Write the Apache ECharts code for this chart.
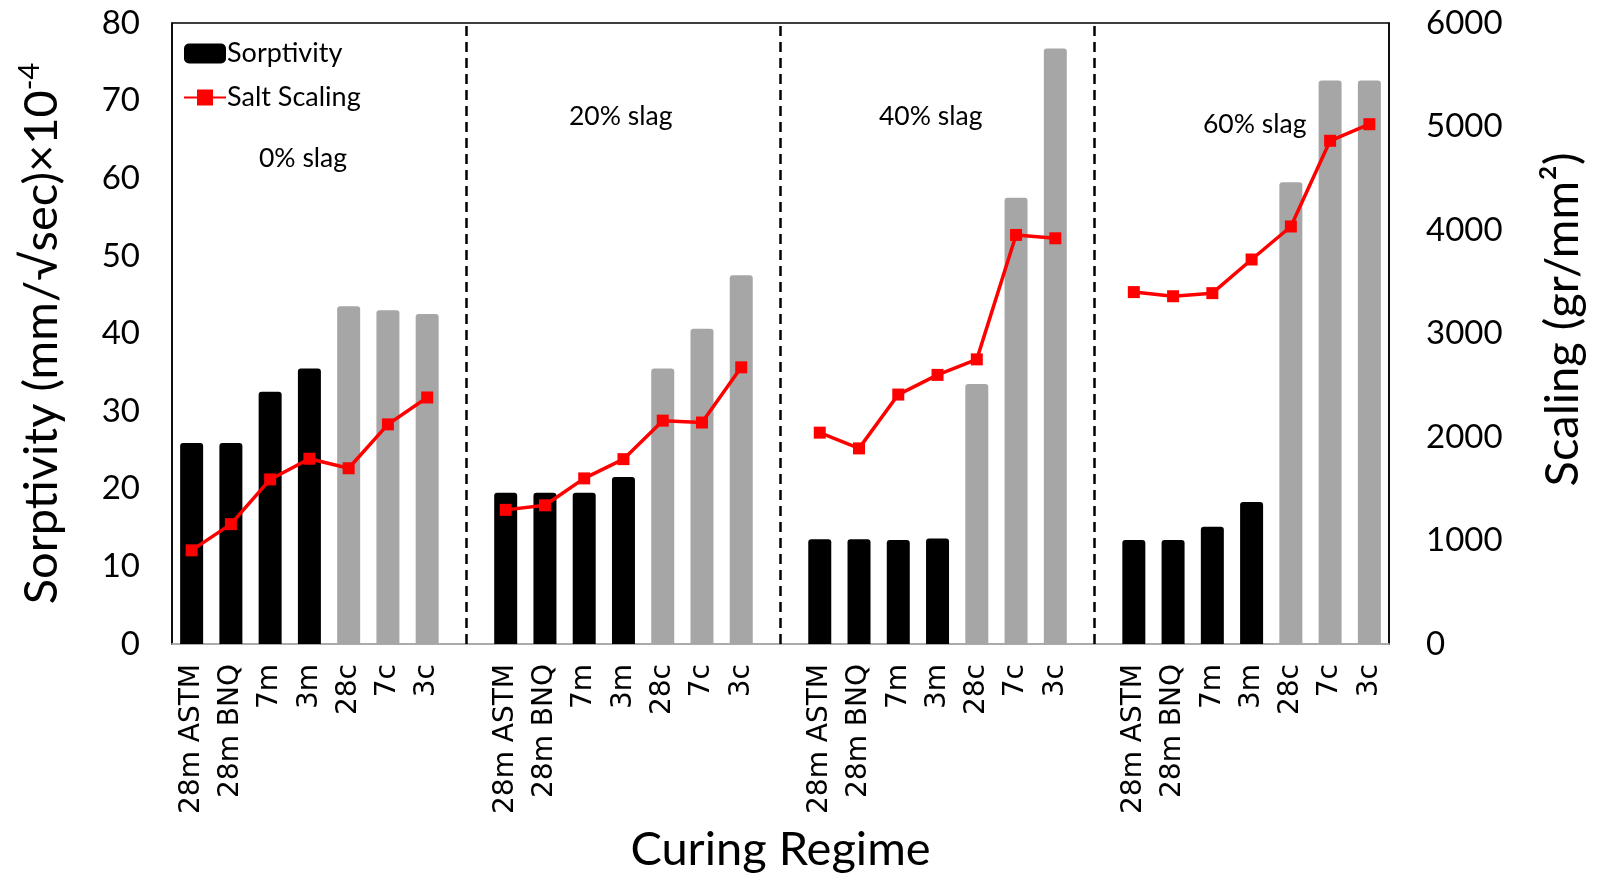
<!DOCTYPE html>
<html>
<head>
<meta charset="utf-8">
<script src="https://cdn.jsdelivr.net/npm/echarts@6/dist/echarts.min.js"></script>
<style>
html,body{margin:0;padding:0;background:#fff;}
#chart{width:1601px;height:878px;}
</style>
</head>
<body>
<div id="chart"></div>
<script>
// ---- data ----
const regimes = ['28m ASTM', '28m BNQ', '7m', '3m', '28c', '7c', '3c'];
const groupNames = ['0% slag', '20% slag', '40% slag', '60% slag'];
const sorptivity0  = [25.9, 25.9, 32.5, 35.5, 43.5, 43.0, 42.5];
const sorptivity20 = [19.5, 19.5, 19.5, 21.5, 35.5, 40.6, 47.5];
const sorptivity40 = [13.5, 13.5, 13.4, 13.6, 33.5, 57.5, 76.7];
const sorptivity60 = [13.4, 13.4, 15.1, 18.3, 59.5, 72.6, 72.6];
const scaling0  = [905, 1158, 1590, 1790, 1698, 2122, 2382];
const scaling20 = [1296, 1340, 1600, 1786, 2158, 2140, 2673];
const scaling40 = [2042, 1890, 2410, 2600, 2750, 3952, 3920];
const scaling60 = [3400, 3360, 3390, 3715, 4034, 4862, 5022];
const leftTicks = {min: 0, max: 80, interval: 10};
const rightTicks = {min: 0, max: 6000, interval: 1000};

// ---- build flat category arrays with a blank slot between groups ----
const sorpGroups = [sorptivity0, sorptivity20, sorptivity40, sorptivity60];
const scaleGroups = [scaling0, scaling20, scaling40, scaling60];
const categories = [], barData = [], lineData = [], separators = [];
sorpGroups.forEach((g, gi) => {
  if (gi > 0) {
    separators.push(categories.length);
    categories.push('sep' + gi);
    barData.push(null);
    lineData.push(null);
  }
  regimes.forEach((r, i) => {
    categories.push(r + '#' + gi);
    const gray = /c$/.test(r);
    barData.push({value: g[i], itemStyle: {color: gray ? '#a6a6a6' : '#000000'}});
    lineData.push(scaleGroups[gi][i]);
  });
});

const chart = echarts.init(document.getElementById('chart'), null, {renderer: 'canvas'});
const FONT = 'Lato';
const gridL = 172, gridR = 212, gridT = 23, gridB = 233;

const option = {
  animation: false,
  backgroundColor: '#fff',
  grid: {left: gridL, right: gridR, top: gridT, bottom: gridB, show: true, borderColor: '#000', borderWidth: 1.5, containLabel: false},
  legend: {
    orient: 'vertical', left: 178, top: 35,
    itemWidth: 42, itemHeight: 20, itemGap: 17,
    data: [
      {name: 'Sorptivity', icon: 'roundRect', itemStyle: {color: '#000'}},
      {name: 'Salt Scaling'}
    ],
    textStyle: {fontFamily: FONT, fontSize: 27, color: '#000', padding: [0, 0, 0, -4]}
  },
  xAxis: {
    type: 'category', data: categories,
    axisLine: {show: true, lineStyle: {color: '#d0d0d0', width: 1.5}},
    axisTick: {show: false},
    axisLabel: {
      interval: 0, rotate: 90, margin: 20,
      fontFamily: 'DejaVu Sans', fontSize: 28, color: '#000',
      formatter: v => v.startsWith('sep') ? '' : v.split('#')[0]
    },
    name: 'Curing Regime', nameLocation: 'middle', nameGap: 182,
    nameTextStyle: {fontFamily: FONT, fontSize: 47, color: '#000'}
  },
  yAxis: [
    {
      type: 'value', min: leftTicks.min, max: leftTicks.max, interval: leftTicks.interval,
      axisLine: {show: true, lineStyle: {color: '#000', width: 1.5}},
      axisTick: {show: false}, splitLine: {show: false},
      axisLabel: {margin: 32, fontFamily: FONT, fontSize: 33, color: '#000'},
      name: '{n|Sorptivity (mm/√sec)×10}{s|-4}', nameLocation: 'middle', nameGap: 104, nameRotate: 90,
      nameTextStyle: {
        rich: {
          n: {fontFamily: FONT, fontSize: 47, color: '#000'},
          s: {fontFamily: FONT, fontSize: 29, color: '#000', verticalAlign: 'top', padding: [0, 0, 24, 0]}
        }
      }
    },
    {
      type: 'value', position: 'right', min: rightTicks.min, max: rightTicks.max, interval: rightTicks.interval,
      axisLine: {show: true, lineStyle: {color: '#000', width: 1.5}},
      axisTick: {show: false}, splitLine: {show: false},
      axisLabel: {margin: 37, fontFamily: FONT, fontSize: 33, color: '#000', formatter: v => String(v)},
      name: 'Scaling (gr/mm²)', nameLocation: 'middle', nameGap: 150, nameRotate: 90,
      nameTextStyle: {fontFamily: FONT, fontSize: 47, color: '#000', padding: [0, 0, 0, 28]}
    }
  ],
  series: [
    {
      name: 'Sorptivity', type: 'bar', yAxisIndex: 0, data: barData,
      barWidth: 23, itemStyle: {color: '#000', borderRadius: [3, 3, 0, 0]},
      markLine: {
        silent: true, symbol: 'none', label: {show: false},
        lineStyle: {color: '#000', type: [10, 6], width: 2.5},
        data: separators.map(i => ({xAxis: i}))
      }
    },
    {
      name: 'Salt Scaling', type: 'line', yAxisIndex: 1, data: lineData,
      connectNulls: false, symbol: 'rect', symbolSize: 12,
      itemStyle: {color: '#ff0000'}, lineStyle: {color: '#ff0000', width: 3.5}, z: 5
    }
  ],
  graphic: groupNames.map((t, i) => ({
    type: 'text',
    left: [259, 569, 879, 1203][i], top: [145, 103, 103, 111][i],
    style: {text: t, font: '26.5px Lato', fill: '#000'}
  }))
};
chart.setOption(option);
</script>
</body>
</html>
